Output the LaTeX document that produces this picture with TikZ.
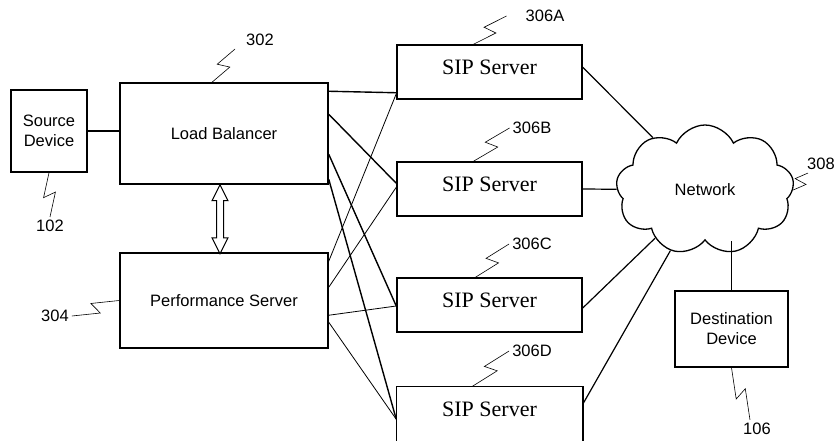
\documentclass[tikz,border=0pt]{standalone}
\usepackage{fontspec}
\setmainfont{Liberation Sans}
\newfontfamily\sipfont{Liberation Serif}
\usetikzlibrary{calc,shapes.symbols}

\tikzset{
  box/.style={draw, line width=1.5pt, align=center, inner sep=2pt},
  sipbox/.style={box, minimum width=185pt, minimum height=54pt, text depth=10pt,
    font=\sipfont\fontsize{22}{26}\selectfont},
  tag/.style={inner sep=3pt},
  zig/.style={line width=0.6pt,
    to path={-- ($(\tikztostart)!0.56!(\tikztotarget)!6pt!-90:(\tikztotarget)$)
             -- ($(\tikztostart)!0.44!(\tikztotarget)!6pt!90:(\tikztotarget)$)
             -- (\tikztotarget)}}
}

\begin{document}
\begin{tikzpicture}[x=1pt, y=-1pt, node distance=117pt,
    font=\fontsize{16.5}{20}\selectfont]
  \useasboundingbox (0,0) rectangle (836,441);
  \begin{scope}[every node/.style={box}]
    \node (src) [minimum width=76pt, minimum height=82pt] at (49,131) {Source\\Device};
    \node (lb) [minimum width=208pt, minimum height=101pt] at (224,133.5) {Load Balancer};
    \node (ps) [below of= lb, node distance=167pt, minimum width=208pt, minimum height=95pt] {Performance Server};
    \node (dest) [minimum width=113pt, minimum height=76pt] at (731.5,329) {Destination\\Device};
  \end{scope}
  \begin{scope}[every node/.style={sipbox}]
    \node (sipA) at (489.5,72) {SIP Server};
    \node (sipB) [below of= sipA] {SIP Server};
    \node (sipC) [below of= sipB, node distance=116pt] {SIP Server};
    \node (sipD) [below of= sipC, node distance=109pt, draw=none] {SIP Server};
  \end{scope}
  % last server runs off the page
  \draw[line width=1.5pt] (sipD.south west) |- (sipD.north east) -- (sipD.south east);
  \node (net) [cloud, draw, cloud puffs=9, cloud puff arc=130, cloud ignores aspect,
    line width=1.3pt, minimum width=178pt, minimum height=130pt] at (705,190) {Network};

  % hollow double arrow
  \draw[line width=1pt, fill=white] ([xshift=-4pt]lb.south) -- ++(8,16) -- ++(-4.5,0)
    -- ++(0,37) -- ++(4.5,0) -- ++(-8,16) -- ++(-8,-16) -- ++(4.5,0) -- ++(0,-37)
    -- ++(-4.5,0) -- cycle;

  \begin{scope}[every edge/.style={draw, line width=1.4pt}]
    \path (src.east) edge (src.east -| lb.west);
    \path ([yshift=-9pt]lb.north east) edge ([yshift=7pt]sipA.south west);
    \path ([yshift=-32pt]lb.north east) edge ([yshift=-22pt]sipB.north west);
    \path ([yshift=-72pt]lb.north east) edge ([yshift=-1pt]sipC.west);
    \path ([yshift=-97pt]lb.north east) edge ([yshift=-33pt]sipD.north west);
  \end{scope}
  \begin{scope}[every edge/.style={draw, line width=0.8pt}]
    \path ([yshift=-9pt]ps.north east) edge ([yshift=6pt]sipA.south west);
    \path ([yshift=-35pt]ps.north east) edge ([yshift=-26pt]sipB.north west);
    \path ([yshift=-63pt]ps.north east) edge ([yshift=-1pt]sipC.west);
    \path ([yshift=-70pt]ps.north east) edge ([yshift=-33pt]sipD.north west);
  \end{scope}
  \begin{scope}[every edge/.style={draw, line width=1.2pt}]
    \path ([yshift=-23pt]sipA.north east) edge (net);
    \path (sipB.east) edge (net);
    \path ([yshift=-3pt]sipC.east) edge (net);
    \path ([yshift=-18pt]sipD.north east) edge (net);
    \path (dest.north) edge (dest.north |- net.south);
  \end{scope}

  % reference numerals
  \begin{scope}[every node/.style={tag}]
    \node (l302) at (260,40) {302};
    \node (l102) at (50,226) {102};
    \node (l304) at (55,316) {304};
    \node (l306a) at (545,16) {306A};
    \node (l306b) at (532,128) {306B};
    \node (l306c) at (532,244) {306C};
    \node (l306d) at (532,351) {306D};
    \node (l308) [anchor=west] at (804,164) {308};
    \node (l106) at (757,429) {106};
  \end{scope}
  \draw[zig] ([xshift=-12pt]lb.north) to ([xshift=-8pt]l302.south west);
  \draw[zig] (src.south) to (l102.north);
  \draw[zig] (ps.west) to (l304.east);
  \draw[zig] ([xshift=-16pt]sipA.north) to ([xshift=-16pt]l306a.west);
  \draw[zig] ([xshift=-16pt]sipB.north) to (l306b.west);
  \draw[zig] ([xshift=-14pt]sipC.north) to (l306c.west);
  \draw[zig] ([xshift=-17pt]sipD.north) to (l306d.west);
  \draw[zig] (net.east) to ([xshift=4pt]l308.south west);
  \draw[zig] (dest.south) to ([xshift=-7pt]l106.north);
\end{tikzpicture}
\end{document}
